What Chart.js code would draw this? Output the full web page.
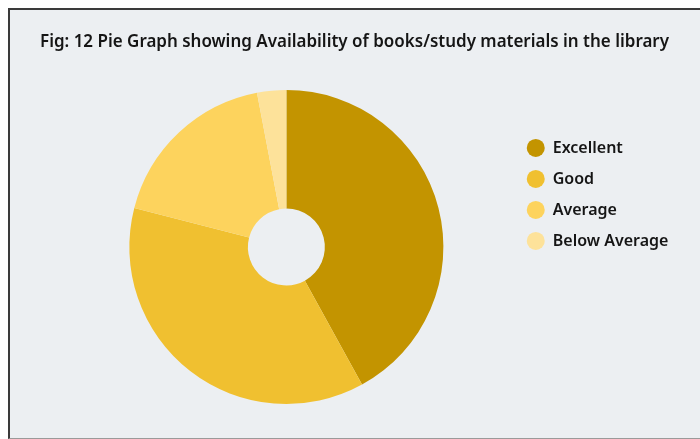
<!DOCTYPE html>
<html>
<head>
<meta charset="utf-8">
<script src="https://cdn.jsdelivr.net/npm/chart.js@4"></script>
<style>
  html, body { margin: 0; padding: 0; background: #fff; }
  #frame {
    position: absolute; left: 8px; top: 8px; width: 700px; height: 428px;
    background: #eceff2; border-left: 2px solid #3a3a3a; border-top: 2px solid #3a3a3a;
    border-bottom: 1px solid #9a9a9a;
  }
  #wrap { position: absolute; left: 0; top: 0; width: 700px; height: 439px; }
</style>
</head>
<body>
<div id="frame"></div>
<div id="wrap"><canvas id="pie"></canvas></div>
<script>
const categories = ['Excellent', 'Good', 'Average', 'Below Average'];
const percentages = [42, 37, 18, 3];
const sliceColours = ['#c39400', '#f0c030', '#fdd35d', '#fde29a'];

const fontFamily = "'Noto Sans', sans-serif";

document.addEventListener('DOMContentLoaded', () => {
    new Chart(document.getElementById('pie').getContext('2d'), {
        type: 'doughnut',
        data: {
            labels: categories,
            datasets: [{
                data: percentages,
                backgroundColor: sliceColours,
                borderWidth: 0,
                hoverOffset: 0
            }]
        },
        options: {
            responsive: true,
            maintainAspectRatio: false,
            animation: false,
            cutout: '24.5%',
            layout: { padding: { left: 40, right: 31, top: 0, bottom: 35 } },
            plugins: {
                title: {
                    display: true,
                    text: 'Fig: 12 Pie Graph showing Availability of books/study materials in the library',
                    color: '#151515',
                    font: { family: fontFamily, size: 17.3, weight: '600', lineHeight: 1.2 },
                    padding: { top: 31.6, bottom: 37.6 }
                },
                // empty left box, keeps the doughnut off the left edge without narrowing the title
                subtitle: {
                    display: true,
                    position: 'left',
                    fullSize: false,
                    text: ' ',
                    font: { size: 10, lineHeight: 1 },
                    padding: { top: 11, bottom: 0 }
                },
                legend: {
                    position: 'right',
                    align: 'start',
                    fullSize: false,
                    // blank title only pushes the items down to where they sit in the figure
                    title: {
                        display: true,
                        text: ' ',
                        font: { size: 10, lineHeight: 1 },
                        padding: { top: 25, bottom: 0 }
                    },
                    labels: {
                        usePointStyle: true,
                        pointStyle: 'circle',
                        pointStyleWidth: 18,
                        boxHeight: 12.7,
                        padding: 15,
                        color: '#151515',
                        font: { family: fontFamily, size: 16, weight: '600' }
                    }
                },
                tooltip: { enabled: false }
            }
        }
    });
});
</script>
</body>
</html>
